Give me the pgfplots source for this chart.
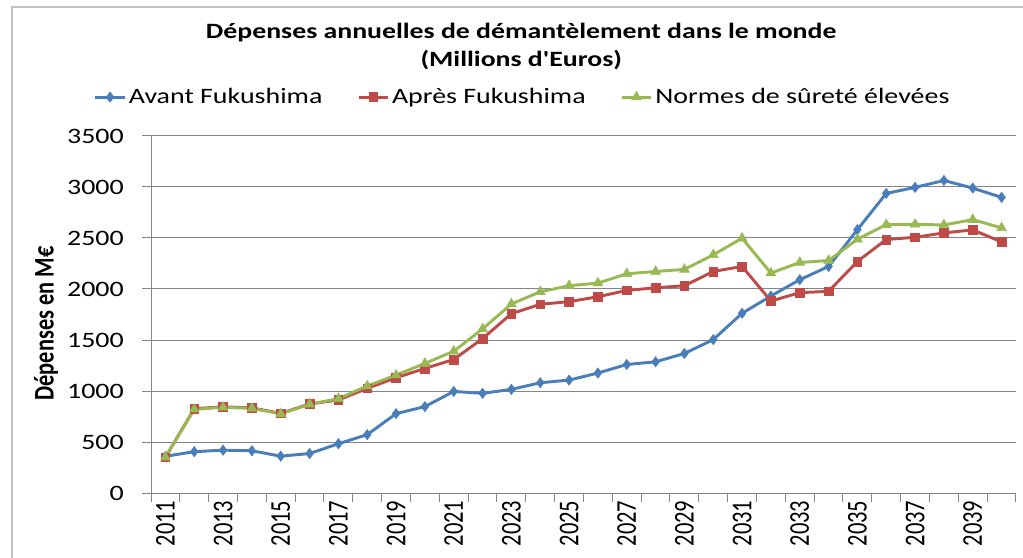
\documentclass[border=0pt]{standalone}
\usepackage{fontspec}
\setmainfont{Carlito}[FakeStretch=1.27]
\newfontfamily\rotfont{Carlito}[FakeStretch=0.787]
\newfontfamily\titlefont{Carlito}[FakeStretch=1.27]
\usepackage{pgfplots}
\pgfplotsset{compat=1.18}
\definecolor{cblue}{RGB}{74,126,187}
\definecolor{cred}{RGB}{190,75,72}
\definecolor{cgreen}{RGB}{152,185,84}
\definecolor{cgrid}{RGB}{134,134,134}
\begin{document}
\begin{tikzpicture}
\useasboundingbox (0,0) rectangle (767.25pt,417.75pt);
\draw[color={rgb,255:red,192;green,192;blue,192}, line width=1.2pt] (9.2pt,-20pt) -- (9.2pt,412.7pt) -- (800pt,412.7pt);
\begin{axis}[
  at={(113.25pt,48pt)}, anchor=south west,
  scale only axis, width=648.75pt, height=267.75pt,
  xmin=2010.5, xmax=2040.5, ymin=0, ymax=3500,
  axis x line*=bottom, axis y line*=left,
  axis line style={draw=cgrid, line width=0.75pt},
  ymajorgrids, grid style={draw=cgrid, line width=0.75pt},
  ytick={0,500,...,3500},
  tick align=outside, major tick length=6.75pt,
  tick style={draw=cgrid, line width=0.75pt},
  /pgf/number format/assume math mode=true,
  /pgf/number format/1000 sep={},
  yticklabel style={font=\fontsize{16.5}{18}\selectfont, inner sep=0pt, xshift=-13.5pt},
  xtick={2010.5,2011.5,...,2040.5}, xticklabels={},
  extra x ticks={2011,2013,...,2039},
  extra x tick labels={2011,2013,2015,2017,2019,2021,2023,2025,2027,2029,2031,2033,2035,2037,2039},
  extra x tick style={major tick length=0pt, xticklabel style={yshift=-5.5pt, rotate=90, anchor=east, inner sep=0pt, font=\rotfont\fontsize{21.5}{22}\selectfont}},
  ylabel={Dépenses en M€},
  ylabel style={at={(axis description cs:-0.1214,0.4748)}, anchor=center, rotate=0, font=\rotfont\bfseries\fontsize{21.3}{23}\selectfont},
  title={Dépenses annuelles de démantèlement dans le monde\\(Millions d\char39 Euros)},
  title style={at={(axis description cs:0.428,1.227)}, anchor=center, align=center, font=\titlefont\bfseries\fontsize{16.4}{21}\selectfont},
  legend style={at={(axis description cs:0.43,1.109)}, anchor=center, draw=none, fill=none,
    legend columns=3, font=\fontsize{16.5}{18}\selectfont,
    /tikz/every even column/.append style={column sep=24pt}},
  legend cell align=left,
  legend image code/.code={\draw[mark repeat=2,mark phase=2,#1] plot coordinates {(0pt,0pt) (11pt,0pt) (22pt,0pt)};},
  every axis plot/.append style={line width=2.2pt},
]
\addplot[color=cblue, mark=diamond*, mark size=3.8pt, mark options={solid, line width=0.5pt}] coordinates {
(2011,360) (2012,405) (2013,420) (2014,414) (2015,361) (2016,387) (2017,483) (2018,572) (2019,778) (2020,847)
(2021,996) (2022,977) (2023,1016) (2024,1081) (2025,1107) (2026,1176) (2027,1260) (2028,1286) (2029,1368) (2030,1504)
(2031,1762) (2032,1931) (2033,2091) (2034,2221) (2035,2582) (2036,2937) (2037,2996) (2038,3064) (2039,2989) (2040,2898)};
\addlegendentry{Avant Fukushima}
\addplot[color=cred, mark=square*, mark size=3.3pt, mark options={solid, line width=0.5pt}] coordinates {
(2011,350) (2012,827) (2013,845) (2014,834) (2015,781) (2016,873) (2017,912) (2018,1026) (2019,1130) (2020,1221)
(2021,1309) (2022,1514) (2023,1758) (2024,1850) (2025,1876) (2026,1924) (2027,1986) (2028,2012) (2029,2032) (2030,2172)
(2031,2221) (2032,1882) (2033,1964) (2034,1977) (2035,2270) (2036,2485) (2037,2507) (2038,2550) (2039,2579) (2040,2462)};
\addlegendentry{Après Fukushima}
\addplot[color=cgreen, mark=triangle*, mark size=4.2pt, mark options={solid, line width=0.5pt}] coordinates {
(2011,350) (2012,820) (2013,840) (2014,830) (2015,775) (2016,870) (2017,925) (2018,1049) (2019,1156) (2020,1270)
(2021,1390) (2022,1609) (2023,1853) (2024,1973) (2025,2032) (2026,2058) (2027,2149) (2028,2172) (2029,2192) (2030,2335)
(2031,2498) (2032,2156) (2033,2260) (2034,2279) (2035,2488) (2036,2631) (2037,2634) (2038,2628) (2039,2680) (2040,2599)};
\addlegendentry{Normes de sûreté élevées}
\end{axis}
\end{tikzpicture}
\end{document}
